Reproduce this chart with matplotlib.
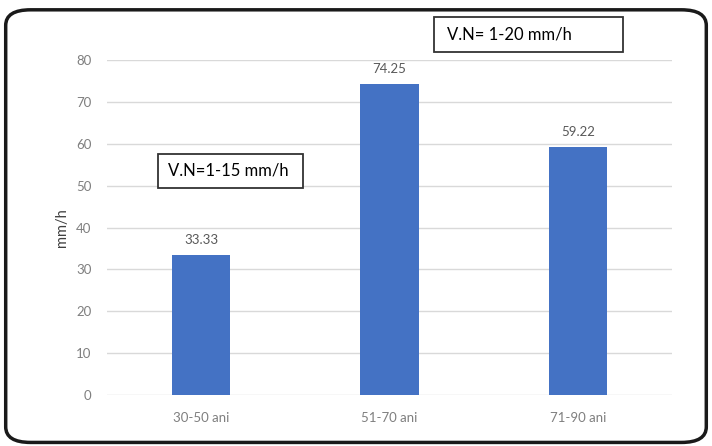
import matplotlib.pyplot as plt
from matplotlib.patches import FancyBboxPatch, Rectangle

categories = ['30-50 ani', '51-70 ani', '71-90 ani']
values = [33.33, 74.25, 59.22]
yticks = [0, 10, 20, 30, 40, 50, 60, 70, 80]
box_labels = ['V.N=1-15 mm/h', 'V.N= 1-20 mm/h']

plt.rcParams['font.family'] = ['Lato', 'DejaVu Sans']

fig = plt.figure(figsize=(7.12, 4.46), dpi=100)
ax = fig.add_axes([0.150, 0.1143, 0.794, 0.7512])

x = range(len(categories))
bars = ax.bar(x, values, width=0.31, color='#4472C4', zorder=3)
for b, v in zip(bars, values):
    ax.text(b.get_x() + b.get_width() / 2, v + 2.2, f'{v:.2f}', ha='center', va='bottom',
            fontsize=9.5, color='#595959')

ax.set_xlim(-0.5, 2.5)
ax.set_ylim(0, 80)
ax.set_yticks(yticks)
ax.set_xticks(list(x))
ax.set_xticklabels(categories)
ax.grid(axis='y', color='#d9d9d9', linewidth=1, zorder=0)
ax.tick_params(axis='both', length=0, labelsize=9.5, colors='#7f7f7f', pad=12)
ax.tick_params(axis='y', pad=11)
for s in ax.spines.values():
    s.set_visible(False)
ax.set_ylabel('mm/h', fontsize=10.5, color='#404040', labelpad=5)

# annotation boxes (figure coords)
boxes = [(0.2219, 0.5785, 0.2037, 0.0762), (0.6096, 0.8834, 0.2654, 0.0785)]
text_pos = [(0.236, 0.6166), (0.628, 0.9226)]
for (bx, by, bw, bh), (tx, ty), lab in zip(boxes, text_pos, box_labels):
    fig.patches.append(Rectangle((bx, by), bw, bh, transform=fig.transFigure,
                                 fc='white', ec='#333333', lw=1.3, zorder=5))
    fig.text(tx, ty, lab, fontsize=12, color='black', ha='left', va='center', zorder=6)

# rounded outer frame
frame = FancyBboxPatch((0.008, 0.008), 0.984, 0.97, boxstyle='round,pad=0,rounding_size=0.035',
                       transform=fig.transFigure, fill=False, ec='#1a1a1a', lw=2.5)
fig.patches.append(frame)

fig.savefig('out.png', dpi=100)
